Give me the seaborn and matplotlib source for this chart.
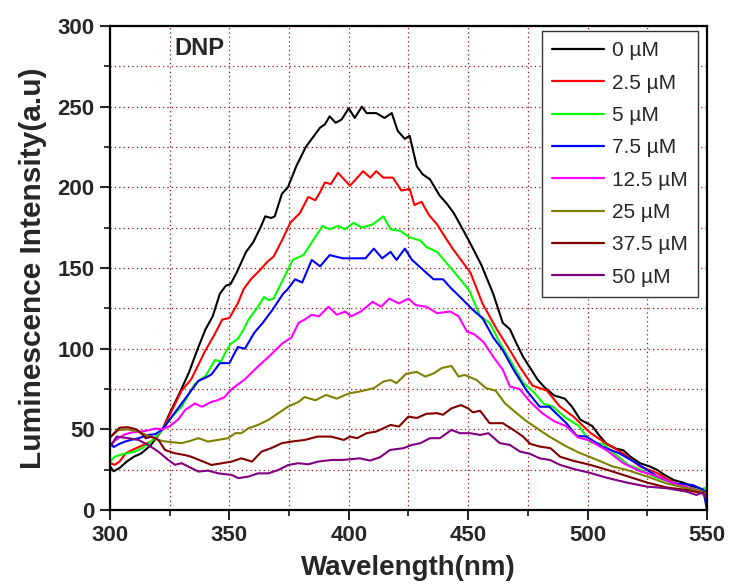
import numpy as np
import pandas as pd
import matplotlib
matplotlib.use("Agg")
import matplotlib.pyplot as plt
from matplotlib.ticker import MultipleLocator
import seaborn as sns

labels = ["0 µM", "2.5 µM", "5 µM", "7.5 µM", "12.5 µM", "25 µM", "37.5 µM", "50 µM"]
colors = ["#000000", "#FF0000", "#00FF00", "#0000FF", "#FF00FF", "#808000", "#800000", "#800080"]

wl_0 = [300, 301.5, 304, 307, 310, 313, 317, 322, 325, 329, 333, 336.5, 340, 343, 346, 348.5, 350.5, 353, 357, 360, 363, 365, 367.5, 369, 372, 374.5, 378, 382, 385, 388, 390, 392, 394.5, 397, 400, 402.5, 405.5, 407.5, 411.5, 415, 418, 420.5, 423.5, 425.5, 428.5, 431, 434, 438, 441, 444, 447, 451, 455.5, 460.5, 464.5, 467.5, 470, 473, 476, 479, 482, 486, 490.5, 493.5, 497, 502, 505, 508, 512, 515, 518, 522, 526, 529, 532, 536, 540, 544, 548.5, 550]
int_0 = [27, 24, 26, 30, 33, 35, 40, 50, 60, 72, 85, 99, 112, 120, 134, 139, 140, 147, 160, 166, 175, 182, 181, 182, 196, 200, 213, 225, 231, 237, 239, 244, 240, 242, 249, 243, 250, 246, 246, 243, 246, 235, 230, 232, 213, 208, 205, 195, 190, 184, 176, 165, 152, 134, 116, 112, 104, 95, 88, 81, 76, 71, 69, 64, 56, 52, 46, 41, 38, 37, 33, 29, 27, 25, 22, 18.6, 17, 14.5, 12.4, 11]

wl_25 = [300, 302, 304, 306.5, 309, 312, 315, 318, 322, 326, 330, 334, 337, 340, 343.5, 347, 350, 353.5, 356, 359, 363, 366, 368.5, 372, 375.5, 379.5, 383, 386, 388, 390, 392.5, 395.5, 398, 400.5, 403, 406, 409, 411.5, 414.5, 418.5, 422, 425.5, 427.5, 430.5, 433.5, 437, 440, 443.5, 447, 451, 456, 462, 467.5, 471.5, 477, 483, 488.5, 494, 501, 508, 515, 522, 529, 536, 542, 547, 550]
int_25 = [29, 28, 30, 35, 37, 39, 41, 43, 50, 62, 74, 81, 90, 99, 108, 118, 119, 128, 137, 143, 149, 154, 157, 167, 178, 184, 194, 192, 197, 203, 202, 209, 205, 201, 205, 210, 206, 210, 206, 206, 198, 199, 189, 191, 183, 177, 170, 162, 155, 147, 128, 112, 99, 89, 77, 74, 64, 58, 48, 41, 35, 27, 23, 17, 14, 12, 9]

wl_5 = [300, 302, 304, 306.5, 310, 313, 316, 319, 322, 326, 330, 333, 335.5, 338, 340, 342, 344, 346.5, 348.5, 350.5, 353.5, 356, 358, 362, 364.5, 366.5, 368.5, 372.5, 376.5, 381, 385, 389, 392, 395.5, 398.5, 402, 405.5, 410, 414.5, 417.5, 421.5, 425.5, 430, 432.5, 437, 441, 445, 450.5, 455, 459, 463.5, 467.5, 473, 477.5, 481.5, 485.5, 491, 496.5, 501, 506.5, 512, 517, 522, 527.5, 536, 542, 547, 550]
int_5 = [30, 33, 34, 35, 36, 38, 41, 45, 50, 58, 64, 72, 78, 81, 83, 88, 93, 92, 98, 103, 106, 112, 118, 126, 132, 130, 131, 143, 155, 158, 167, 176, 174, 176, 174, 178, 175, 177, 182, 174, 173, 169, 167, 163, 160, 153, 146, 136, 120, 116, 103, 93, 79, 73, 66, 64, 57, 52, 42, 41, 34, 28, 25, 21, 16.5, 14, 12.5, 14]

wl_75 = [300, 301.5, 304, 306.5, 309, 312, 316, 319, 322, 326, 330, 333.5, 337, 340, 342.5, 346, 350, 353.5, 356.5, 360.5, 364, 368, 372.5, 374.5, 377.5, 380.5, 384.5, 388, 392, 397.5, 403, 407, 410.5, 414, 417.5, 420, 423.5, 426.5, 431, 435.5, 439.5, 442.5, 448, 452, 456, 460.5, 464.5, 469, 474.5, 480, 484, 487.5, 491, 495.5, 499.5, 506.5, 513.5, 520.5, 529, 536, 544, 548.5, 550]
int_75 = [42, 39, 41, 42.5, 43.5, 44.5, 46.5, 47, 50, 58, 66, 73, 80, 82, 84, 91, 91, 101, 100, 110, 116, 124, 134, 137, 143, 141, 155, 151, 158, 156, 156, 156, 162, 156, 160, 155, 162, 155, 149, 143, 143, 138, 130, 124, 119, 107, 99, 87, 74, 64, 64, 59, 54, 46, 45.5, 39, 35, 29, 21, 16.5, 15.5, 12.5, 0]

wl_125 = [300, 302, 304, 306.5, 309, 312, 315, 319, 322, 325, 328.5, 331.5, 335.5, 338.5, 342.5, 345, 348, 351, 356.5, 362, 366.5, 372, 376, 379, 381.5, 384.5, 387.5, 391.5, 395, 398.5, 401, 405, 410, 413.5, 417, 421, 425, 428, 432.5, 437, 442.5, 446, 449.5, 452.5, 456.5, 460.5, 464.5, 467.5, 471.5, 476, 481, 486, 491, 496, 501, 508, 515, 522, 529, 536, 542, 547, 550]
int_125 = [40, 43, 45, 47, 48, 48.5, 49, 50.5, 50, 52, 56, 62, 66, 64, 67, 68, 70, 75, 81, 89, 95, 103, 107, 116, 118, 121, 120, 126, 121, 123, 120, 123, 129, 126, 131, 128, 131, 127, 126, 122, 123, 120, 110.6, 109, 104, 95, 87, 76.5, 75, 67, 60, 55, 52, 45, 43, 37, 29, 24, 21, 16.5, 14, 12, 7]

wl_250 = [300, 303.5, 307.5, 312, 316, 320, 323, 326, 330, 334, 337, 341, 345.5, 349.5, 352.5, 355, 358, 362, 366.5, 370.5, 374.5, 379, 381.5, 386, 390.5, 395, 398.5, 400.5, 404.5, 410.5, 414.5, 417.5, 420, 424, 428.5, 432, 435.5, 439, 443, 446, 448.5, 453.5, 457.5, 461.5, 465.5, 469.5, 474, 478.5, 484, 491, 496.5, 502.5, 510.5, 516.5, 525, 533, 541.5, 548.5, 550]
int_250 = [45, 49.5, 50, 48.5, 46, 43.4, 42.5, 42, 41.4, 43, 44.5, 42.4, 43.5, 44.5, 47.6, 47.6, 50.7, 52.7, 56, 60, 64, 67, 70, 68, 71.3, 69, 71.3, 72.4, 73.4, 75.5, 79.6, 80.6, 78.6, 84.4, 85.6, 82.7, 84.6, 88, 89.3, 82.7, 83.7, 80.6, 75.5, 74, 66, 61, 55.5, 51, 45.5, 39.5, 35.5, 32, 27, 24.8, 20.7, 16.5, 13.5, 11.4, 10]

wl_375 = [300, 302, 304, 307.5, 311, 313.5, 315, 317.5, 320.3, 323, 327, 331.5, 334, 337, 342.5, 347, 351, 355, 359.5, 363.5, 367.5, 372, 376, 381.5, 387, 392.5, 398, 400.5, 403.5, 407.5, 411.5, 417.5, 421, 425, 428.5, 432.5, 437, 439.5, 443, 447, 450, 452, 455, 459, 464.5, 469, 473, 476, 480, 484.5, 488.5, 494, 501, 508, 516.5, 525, 533, 541.5, 548.5, 550]
int_375 = [45, 48, 51, 51.3, 50, 47, 44.5, 45.5, 43.4, 37.2, 35.2, 34, 33, 31.2, 27.9, 29, 30, 32, 30, 36.2, 38.3, 41.4, 42.4, 43.4, 45.5, 45.5, 43.4, 45.5, 44.5, 47.6, 48.6, 52.7, 51.7, 57.9, 57, 59.6, 60, 59, 63, 65, 63, 60.5, 61.5, 53.8, 53.8, 49.6, 45.5, 41, 39.3, 38.3, 33, 30.5, 28, 25, 21, 17, 14, 12.4, 10.3, 8]

wl_500 = [300, 302.8, 305, 307.7, 311.9, 316, 320.2, 324.4, 327.2, 330, 334, 337, 341, 345.4, 351, 353.7, 358, 362, 366.3, 370.5, 374.7, 378.9, 383, 387.2, 392.8, 397, 400.5, 404.7, 408.9, 413.1, 417.3, 422.9, 426.4, 430, 434, 438.2, 443, 446.5, 450.8, 455, 458.5, 463.3, 467.5, 471.7, 475.9, 480, 484.3, 488.4, 494, 501, 508, 516.4, 524.8, 533, 541.4, 545.6, 548.5, 550]
int_500 = [39, 45.5, 45, 44.5, 43.4, 40.3, 36.2, 31, 28, 29, 26, 23.8, 24.4, 22.7, 21.7, 19.7, 20.7, 22.7, 22.7, 24.8, 27.9, 29, 28.3, 30, 31, 31, 31.4, 32, 30.6, 32.7, 37.2, 38.3, 40.3, 41.4, 44.5, 44.5, 49.6, 47.6, 47.6, 46.5, 47.6, 41.4, 40.3, 36.2, 34.8, 32, 31, 28, 25.5, 23, 20, 17, 14.5, 13.5, 11.4, 9.3, 11, 5]

series_wl = [wl_0, wl_25, wl_5, wl_75, wl_125, wl_250, wl_375, wl_500]
series_int = [int_0, int_25, int_5, int_75, int_125, int_250, int_375, int_500]

frames = []
for lab, w, v in zip(labels, series_wl, series_int):
    frames.append(pd.DataFrame({"Wavelength": w, "Intensity": v, "Conc": lab}))
df = pd.concat(frames, ignore_index=True)

sns.set_style("white")
plt.rcParams['font.family'] = ['Liberation Sans', 'DejaVu Sans']

fig = plt.figure(figsize=(7.31, 5.88), dpi=100)
ax = fig.add_axes([0.1505, 0.1327, 0.8165, 0.8231])

sns.lineplot(data=df, x="Wavelength", y="Intensity", hue="Conc", hue_order=labels,
             palette=colors, estimator=None, sort=True, linewidth=1.5, ax=ax, legend=True)

ax.set_xlim(300, 550)
ax.set_ylim(0, 300)
ax.xaxis.set_major_locator(MultipleLocator(50))
ax.xaxis.set_minor_locator(MultipleLocator(25))
ax.yaxis.set_major_locator(MultipleLocator(50))
ax.yaxis.set_minor_locator(MultipleLocator(25))

ax.grid(True, which="both", color="#A01010", linestyle=(0, (1, 2.5)), linewidth=0.9)
ax.set_axisbelow(True)

for s in ax.spines.values():
    s.set_color("black")
    s.set_linewidth(1.6)

ax.tick_params(axis="both", which="major", direction="out", length=7, width=1.5,
               labelsize=16, bottom=True, left=True, top=False, right=False, pad=4)
ax.tick_params(axis="both", which="minor", direction="out", length=4, width=1.3,
               bottom=True, left=True, top=False, right=False)
for t in ax.get_xticklabels() + ax.get_yticklabels():
    t.set_fontweight("bold")

ax.set_xlabel("Wavelength(nm)", fontsize=20, fontweight="bold", labelpad=6)
ax.set_ylabel("Luminescence Intensity(a.u)", fontsize=21.5, fontweight="bold", labelpad=8)

ax.text(327, 286, "DNP", fontsize=17, fontweight="bold", ha="left", va="center")

handles, labs = ax.get_legend_handles_labels()
leg = ax.legend(handles, labs, loc="upper right", bbox_to_anchor=(0.985, 0.99),
                fontsize=15, frameon=True, fancybox=False, shadow=False,
                handlelength=2.5, handletextpad=0.35, labelspacing=0.64,
                borderpad=0.5, borderaxespad=0.0)
leg.get_frame().set_edgecolor("#333333")
leg.get_frame().set_linewidth(1.0)
leg.get_frame().set_alpha(1.0)
for h in leg.get_lines():
    h.set_linewidth(1.6)

fig.savefig("out.png", dpi=100)
